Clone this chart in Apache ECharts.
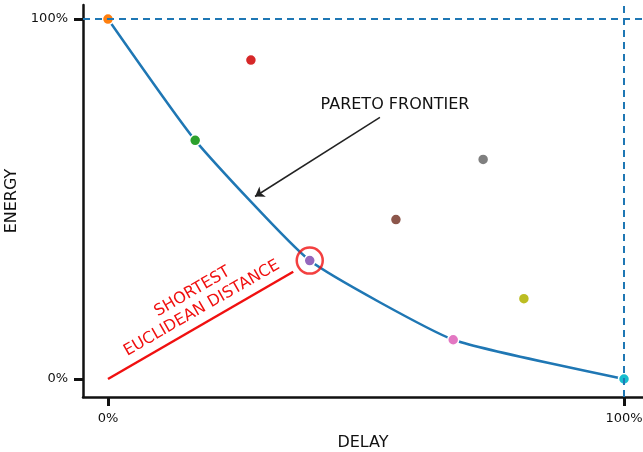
<!DOCTYPE html>
<html>
<head>
<meta charset="utf-8">
<script src="https://cdn.jsdelivr.net/npm/echarts@6/dist/echarts.min.js"></script>
<style>
  html, body { margin: 0; padding: 0; background: #fff; }
  #chart { width: 643px; height: 452px; }
</style>
</head>
<body>
<div id="chart"></div>
<script>
// delay / energy in percent, one entry per solution
var delayValues = [0, 16.9, 27.7, 39.1, 55.8, 66.9, 72.7, 80.6, 100];
var energyValues = [100, 66.3, 88.6, 32.9, 44.3, 10.9, 61.0, 22.3, 0];
var pointColors = ['#ff7f0e', '#2ca02c', '#d62728', '#9467bd', '#8c564b', '#e377c2', '#7f7f7f', '#bcbd22', '#17becf'];

// indices of the solutions that make the pareto frontier
var frontierIdx = [0, 1, 3, 5, 8];
var bestIdx = 3;

var tickValues = [0, 100];
var tickLabels = { 0: '0%', 100: '100%' };

// annotation lines (data coords)
var arrowFrom = [52.7, 72.7];
var arrowTo = [28.5, 50.7];
var distanceLineEnd = [35.9, 29.8];

var font = 'DejaVu Sans';
var red = '#f01010';

var points = delayValues.map(function(d, i) {
    return [d, energyValues[i]];
});
var frontier = frontierIdx.map(function(i) {
    return points[i];
});

var myChart = echarts.init(document.getElementById('chart'));

var option = {
    animation : false,
    grid : {
        left : 83,
        right : 0,
        top : 5,
        bottom : 55,
        containLabel : false,
        outerBoundsMode : 'none'
    },
    xAxis : {
        type : 'value',
        min : -4.84,
        max : 103.68,
        name : 'DELAY',
        nameLocation : 'middle',
        nameGap : 38,
        nameTextStyle : { fontFamily : font, fontSize : 16, color : '#111' },
        axisLine : { onZero : false, lineStyle : { color : '#111', width : 2.5 } },
        axisTick : { show : true, customValues : tickValues, length : 9, inside : false, lineStyle : { color : '#111', width : 3 } },
        axisLabel : {
            customValues : tickValues,
            formatter : function(v) { return tickLabels[v]; },
            margin : 15,
            fontFamily : font,
            fontSize : 13,
            color : '#111'
        },
        splitLine : { show : false }
    },
    yAxis : {
        type : 'value',
        min : -5.0,
        max : 103.9,
        name : 'ENERGY',
        nameLocation : 'middle',
        nameGap : 55,
        nameTextStyle : { fontFamily : font, fontSize : 16, color : '#111' },
        axisLine : { show : true, onZero : false, lineStyle : { color : '#111', width : 2.5 } },
        axisTick : { show : true, customValues : tickValues, length : 9, inside : false, lineStyle : { color : '#111', width : 3 } },
        axisLabel : {
            customValues : tickValues,
            formatter : function(v) { return tickLabels[v]; },
            margin : 15,
            fontFamily : font,
            fontSize : 13,
            color : '#111'
        },
        splitLine : { show : false }
    },
    series : [{
        // pareto frontier curve + reference dashed lines
        type : 'line',
        data : frontier,
        smooth : 0.15,
        showSymbol : false,
        z : 2,
        lineStyle : { color : '#1f77b4', width : 2.5 },
        markLine : {
            silent : true,
            symbol : 'none',
            label : { show : false },
            lineStyle : { color : '#1f77b4', width : 2, type : [7, 5] },
            data : [{ yAxis : 100 }, { xAxis : 100 }]
        }
    }, {
        // annotation lines
        type : 'line',
        data : [],
        markLine : {
            silent : true,
            label : { show : false },
            data : [
                [{ coord : arrowFrom, symbol : 'none', lineStyle : { color : '#222', width : 1.5, type : 'solid' } },
                 { coord : arrowTo, symbol : 'arrow', symbolSize : 9 }],
                [{ coord : [0, 0], symbol : 'none', lineStyle : { color : red, width : 2.5, type : 'solid' } },
                 { coord : distanceLineEnd, symbol : 'none' }]
            ]
        }
    }, {
        type : 'scatter',
        data : points,
        symbolSize : 11,
        z : 4,
        itemStyle : {
            color : function(p) { return pointColors[p.dataIndex]; },
            borderColor : '#fff',
            borderWidth : 1.5,
            opacity : 1
        }
    }, {
        // ring around the best solution
        type : 'scatter',
        data : [points[bestIdx]],
        symbolSize : 26,
        z : 3,
        itemStyle : {
            color : 'rgba(255,255,255,0)',
            borderColor : red,
            borderWidth : 2.5
        }
    }],
    graphic : [{
        type : 'text',
        x : 395,
        y : 105,
        style : {
            text : 'PARETO FRONTIER',
            font : '16px "DejaVu Sans"',
            fill : '#111',
            align : 'center',
            verticalAlign : 'middle'
        }
    }, {
        type : 'text',
        x : 197,
        y : 300,
        rotation : 30 * Math.PI / 180,
        style : {
            text : 'SHORTEST\nEUCLIDEAN DISTANCE',
            font : '16px "DejaVu Sans"',
            fill : red,
            align : 'center',
            verticalAlign : 'middle',
            lineHeight : 19
        }
    }]
};
myChart.setOption(option);
</script>
</body>
</html>
